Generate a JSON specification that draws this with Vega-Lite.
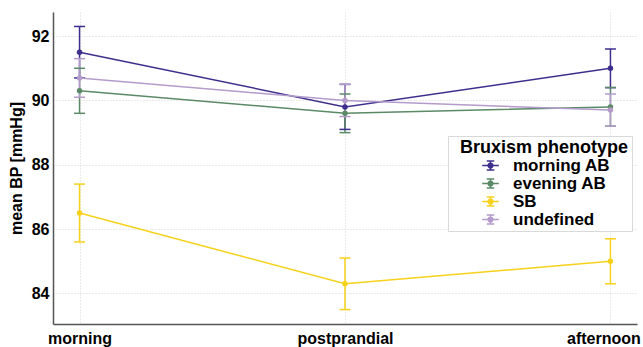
{
  "$schema": "https://vega.github.io/schema/vega-lite/v6.json",
  "width": 584,
  "height": 312,
  "autosize": {"type": "none"},
  "padding": {"left": 53, "top": 12, "right": 6, "bottom": 23},
  "background": "white",
  "config": {
    "view": {"stroke": null},
    "axis": {
      "labelFont": "Liberation Sans",
      "labelFontWeight": "bold",
      "labelFontSize": 16,
      "labelColor": "black",
      "titleFont": "Liberation Sans",
      "titleFontWeight": "bold",
      "titleFontSize": 16,
      "titleColor": "black",
      "ticks": false,
      "domainColor": "#555555",
      "domainWidth": 1.5,
      "gridColor": "#d4d4d4",
      "gridDash": [1, 2],
      "gridWidth": 1
    }
  },
  "data": {
    "values": [
      {"time": "morning", "group": "morning AB", "mean": 91.5, "lo": 90.7, "hi": 92.3},
      {"time": "postprandial", "group": "morning AB", "mean": 89.8, "lo": 89.1, "hi": 90.5},
      {"time": "afternoon", "group": "morning AB", "mean": 91.0, "lo": 90.4, "hi": 91.6},
      {"time": "morning", "group": "evening AB", "mean": 90.3, "lo": 89.6, "hi": 91.0},
      {"time": "postprandial", "group": "evening AB", "mean": 89.6, "lo": 89.0, "hi": 90.2},
      {"time": "afternoon", "group": "evening AB", "mean": 89.8, "lo": 89.2, "hi": 90.4},
      {"time": "morning", "group": "SB", "mean": 86.5, "lo": 85.6, "hi": 87.4},
      {"time": "postprandial", "group": "SB", "mean": 84.3, "lo": 83.5, "hi": 85.1},
      {"time": "afternoon", "group": "SB", "mean": 85.0, "lo": 84.3, "hi": 85.7},
      {"time": "morning", "group": "undefined", "mean": 90.7, "lo": 90.1, "hi": 91.3},
      {"time": "postprandial", "group": "undefined", "mean": 90.0, "lo": 89.5, "hi": 90.5},
      {"time": "afternoon", "group": "undefined", "mean": 89.7, "lo": 89.2, "hi": 90.2}
    ]
  },
  "encoding": {
    "x": {
      "field": "time",
      "type": "nominal",
      "sort": ["morning", "postprandial", "afternoon"],
      "scale": {"type": "point", "padding": 0.1},
      "axis": {
        "title": null,
        "labelAngle": 0,
        "labelPadding": 6,
        "grid": true,
        "labelOffset": {"condition": {"test": "datum.value === 'afternoon'", "value": -7}, "value": 0}
      }
    },
    "color": {
      "field": "group",
      "type": "nominal",
      "sort": ["morning AB", "evening AB", "SB", "undefined"],
      "scale": {
        "domain": ["morning AB", "evening AB", "SB", "undefined"],
        "range": ["#3e2f8d", "#5b8a67", "#f7d11a", "#b49bcb"]
      },
      "legend": {
        "title": "Bruxism phenotype",
        "orient": "none",
        "legendX": 395,
        "legendY": 124,
        "titleFont": "Liberation Sans",
        "titleFontSize": 18,
        "titleFontWeight": "bold",
        "titleColor": "black",
        "titlePadding": -1,
        "labelFont": "Liberation Sans",
        "labelFontSize": 17,
        "labelFontWeight": "bold",
        "labelColor": "black",
        "padding": 3,
        "strokeColor": "#d9d9d9",
        "fillColor": "white",
        "cornerRadius": 0,
        "symbolType": "M-1,0H1M0,-0.55V0.55M-0.45,-0.55H0.45M-0.45,0.55H0.45M-0.28,0A0.28,0.28,0,1,0,0.28,0A0.28,0.28,0,1,0,-0.28,0Z",
        "symbolSize": 276,
        "symbolStrokeWidth": 1.5,
        "symbolOffset": 30,
        "labelOffset": 13,
        "rowPadding": 0,
        "encode": {
          "symbols": {
            "update": {
              "fill": {"scale": "color", "field": "value"},
              "stroke": {"scale": "color", "field": "value"},
              "opacity": {"value": 1}
            }
          },
          "title": {"update": {"dx": {"value": 9}}}
        }
      }
    }
  },
  "layer": [
    {
      "mark": {"type": "rule", "strokeWidth": 1.5},
      "encoding": {
        "y": {"field": "lo", "type": "quantitative", "title": "mean BP [mmHg]", "scale": {"domain": [83.05, 92.75], "nice": false, "zero": false}, "axis": {"values": [84, 86, 88, 90, 92], "labelPadding": 4, "titlePadding": 7}},
        "y2": {"field": "hi"}
      }
    },
    {
      "mark": {"type": "tick", "size": 11, "thickness": 1.5, "opacity": 1},
      "encoding": {"y": {"field": "lo", "type": "quantitative", "title": "mean BP [mmHg]"}}
    },
    {
      "mark": {"type": "tick", "size": 11, "thickness": 1.5, "opacity": 1},
      "encoding": {"y": {"field": "hi", "type": "quantitative", "title": "mean BP [mmHg]"}}
    },
    {
      "mark": {"type": "line", "strokeWidth": 1.5},
      "encoding": {"y": {"field": "mean", "type": "quantitative", "title": "mean BP [mmHg]"}}
    },
    {
      "mark": {"type": "point", "filled": true, "size": 30, "opacity": 1},
      "encoding": {"y": {"field": "mean", "type": "quantitative", "title": "mean BP [mmHg]"}}
    }
  ]
}
